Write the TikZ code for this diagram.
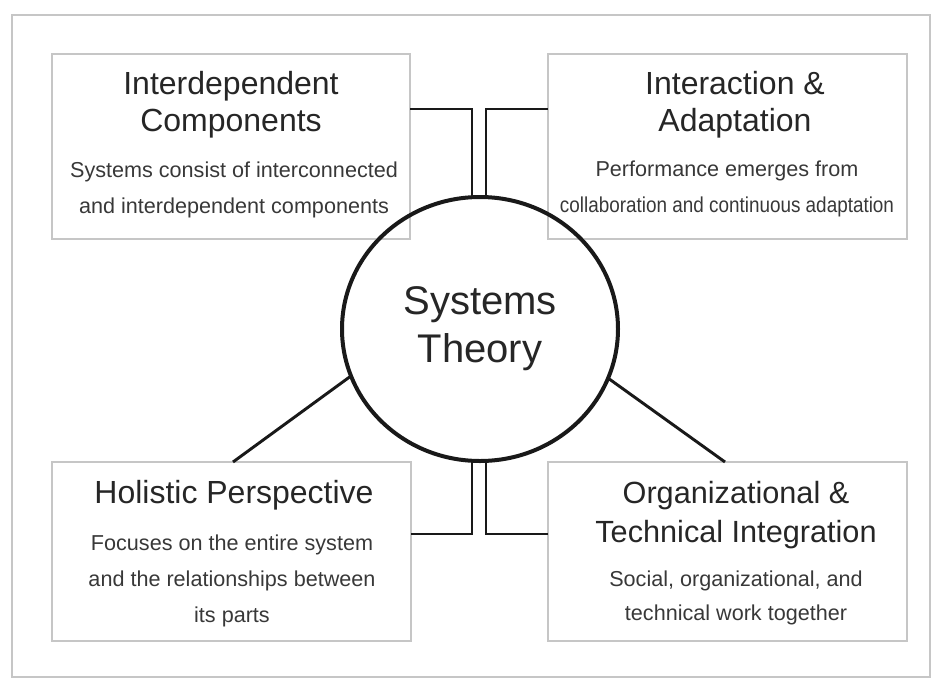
\documentclass[tikz,border=0pt]{standalone}
\usepackage{fontspec}
\setmainfont{Liberation Sans}
\usepackage{graphicx}
\usetikzlibrary{shapes.geometric}
\begin{document}
\begin{tikzpicture}[x=0.75pt,y=-0.75pt,
    box/.style={draw=gray!45, line width=1.4pt, minimum width=269pt, inner sep=0pt, outer sep=0pt},
    head/.style={anchor=base, align=center, text=black!85, font=\fontsize{24}{27.75}\selectfont},
    body/.style={anchor=base, align=center, text=black!78, font=\fontsize{16.2}{27}\selectfont},
    link/.style={draw=black!90, line width=2.2pt}]
    \useasboundingbox (0,0) rectangle (933,679);
    \draw[gray!45, line width=1.4pt] (12,15) rectangle (930,677);
    % the four boxes
    \node[box, minimum height=138.75pt] (tl) at (231,146.5) {};
    \node[box, minimum height=138.75pt] (tr) at (727.5,146.5) {};
    \node[box, minimum height=134.25pt] (bl) at (231.5,551.5) {};
    \node[box, minimum height=134.25pt] (br) at (727.5,551.5) {};
    % texts
    \node[head] (tlhead) at (231,131) {Interdependent\\Components};
    \node[body] (tlbody) at (234,213) {Systems consist of interconnected\\and interdependent components};
    \node[head] (trhead) at (735,131) {Interaction \&\\Adaptation};
    \node[body] (trbody) at (727,212) {Performance emerges from\\\scalebox{0.875}[1]{collaboration and continuous adaptation}};
    \node[head] (blhead) at (234,503) {Holistic Perspective};
    \node[body] (blbody) at (232,622) {Focuses on the entire system\\and the relationships between\\its parts};
    \node[head, font=\fontsize{23}{29}\selectfont] (brhead) at (736,542) {Organizational \&\\Technical Integration};
    \node[body, font=\fontsize{16.2}{25.5}\selectfont] (brbody) at (736,620) {Social, organizational, and\\technical work together};
    % centre
    \node[ellipse, draw=black!90, line width=3pt, minimum width=207pt, minimum height=198pt,
        inner sep=0pt, outer sep=0pt, align=center, text=black!85,
        font=\fontsize{30}{36}\selectfont] (core) at (480,329) {Systems\\Theory};
    % connectors
    \draw[link] (tl.east |- 0,109) -| (core.north -| 472,0);
    \draw[link] (tr.west |- 0,109) -| (core.north -| 486,0);
    \draw[link] (bl.east |- 0,534) -| (core.south -| 472,0);
    \draw[link] (br.west |- 0,534) -| (core.south -| 486,0);
    \draw[link] (core.200) -- (bl.north -| 233,0);
    \draw[link] (core.339) -- (br.north -| 725,0);
\end{tikzpicture}
\end{document}
